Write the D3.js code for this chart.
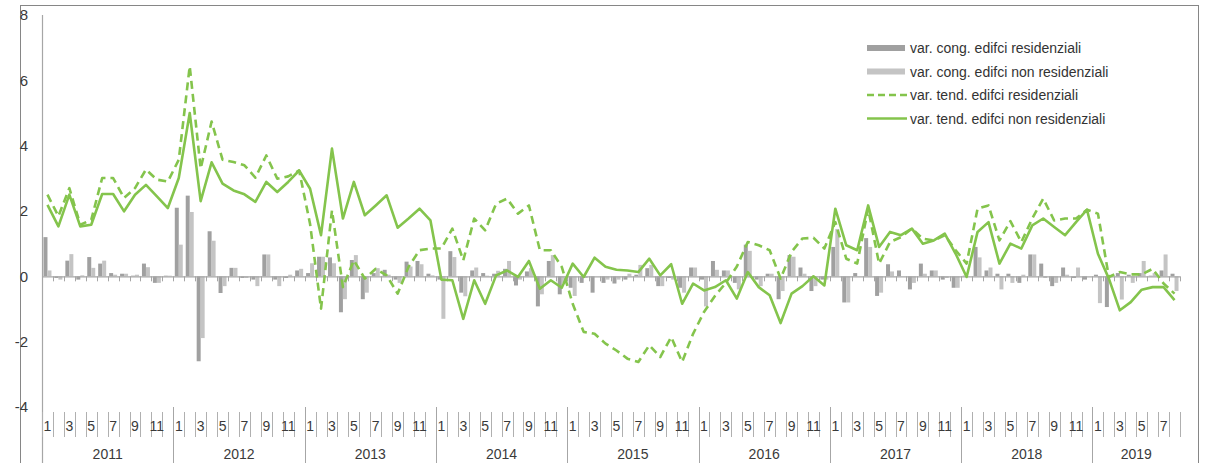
<!DOCTYPE html>
<html>
<head>
<meta charset="utf-8">
<script src="https://cdn.jsdelivr.net/npm/d3@7"></script>
<style>
  body { margin: 0; background: #fff; }
  svg { font-family: "Liberation Sans", Arial, sans-serif; }
</style>
</head>
<body>
<svg id="chart" width="1206" height="463"></svg>
<script>
// monthly series, Jan 2011 -> Aug 2019
const years = [2011, 2012, 2013, 2014, 2015, 2016, 2017, 2018, 2019];
const monthsPerYear = [12, 12, 12, 12, 12, 12, 12, 12, 8];

const congRes = [
    1.2, -0.05, 0.48, -0.1, 0.59, 0.39, 0.1, 0.08, 0.02, 0.39, -0.2, 0.02,
    2.1, 2.47, -2.6, 1.38, -0.51, 0.26, -0.05, -0.1, 0.67, -0.1, -0.05, 0.18,
    0.1, 0.6, 0.58, -1.1, 0.5, -0.7, 0.1, 0.2, -0.1, 0.45, 0.47, 0.08,
    -0.1, 0.77, -0.5, 0.18, 0.1, 0.08, 0.23, -0.28, 0.15, -0.92, 0.47, -0.55,
    -0.35, -0.2, -0.5, -0.2, -0.22, -0.1, 0.05, 0.25, -0.3, -0.05, -0.35, 0.27,
    -0.1, 0.47, 0.18, -0.2, 0.97, -0.1, 0.08, -0.7, 0.65, 0.27, -0.45, -0.1,
    0.9, -0.8, 0.1, 1.17, -0.6, 0.37, 0.18, -0.4, 0.39, 0.18, -0.1, -0.35,
    0.02, 0.9, 0.18, 0.08, 0.08, -0.2, 0.67, 0.39, -0.3, 0.27, -0.05, -0.1,
    0.05, -0.94, 0.1, 0.05, 0.1, 0.02, 0.18, 0.08
];
const congNonRes = [
    0.18, -0.1, 0.68, 0.03, 0.26, 0.48, 0.05, 0.08, 0.05, 0.28, -0.2, 0.02,
    0.97, 1.97, -1.89, 1.09, -0.3, 0.26, -0.05, -0.3, 0.67, -0.3, 0.05, 0.23,
    0.4, 0.6, 0.4, -0.7, 0.65, -0.5, 0.25, 0.05, -0.2, 0.3, 0.37, 0.03,
    -1.3, 0.59, -0.61, 0.27, 0.02, 0.17, 0.47, -0.1, 0.25, -0.55, 0.65, -0.2,
    -0.6, -0.05, 0.0, -0.1, -0.1, 0.08, 0.35, 0.35, -0.3, -0.1, -0.5, 0.27,
    -0.92, 0.2, 0.18, -0.4, 0.78, -0.3, 0.08, -0.45, 0.6, 0.08, -0.3, -0.1,
    1.45, -0.8, 0.0, 0.9, -0.5, 0.15, 0.0, -0.2, 0.08, 0.18, -0.05, -0.35,
    0.0, 0.58, 0.27, -0.4, -0.2, 0.05, 0.67, -0.05, -0.2, 0.05, 0.27, 0.0,
    -0.82, 0.0, -0.71, -0.2, 0.47, 0.1, 0.67, -0.45
];
const tendRes = [
    2.5, 1.84, 2.7, 1.58, 1.73, 3.01, 3.01, 2.4, 2.7, 3.27, 2.96, 2.9,
    3.57, 6.43, 3.3, 4.74, 3.57, 3.5, 3.4, 3.02, 3.7, 2.99, 3.06, 3.24,
    1.6, -0.99, 2.02, -0.33, 0.49, -0.07, 0.23, 0.03, -0.53, 0.29, 0.8, 0.85,
    0.85, 1.46, 0.49, 1.77, 1.41, 2.22, 2.38, 1.92, 2.17, 0.8, 0.8, 0.29,
    -0.84, -1.7, -1.76, -2.06, -2.27, -2.52, -2.62, -2.11, -2.47, -1.86, -2.62, -1.76,
    -1.09, -0.6, -0.2, 0.3, 1.05, 0.95, 0.8, -0.07, 0.75, 1.16, 1.18, 0.85,
    1.66, 0.54, 0.39, 2.07, 0.39, 1.05, 1.2, 1.46, 1.15, 1.1, 1.26, 0.8,
    0.39, 2.07, 2.17, 1.1, 1.69, 1.05, 1.77, 2.38, 1.71, 1.77, 1.77, 2.04,
    1.92, -0.02, 0.13, 0.06, 0.06, 0.23, -0.22, -0.53
];
const tendNonRes = [
    2.19, 1.53, 2.5, 1.53, 1.58, 2.52, 2.52, 1.99, 2.5, 2.8, 2.45, 2.09,
    3.01, 5.0, 2.3, 3.49, 2.84, 2.63, 2.51, 2.28, 2.89, 2.58, 2.89, 3.24,
    2.68, 1.26, 3.91, 1.77, 2.89, 1.87, 2.17, 2.48, 1.49, 1.77, 2.07, 1.71,
    -0.1, -0.12, -1.3, -0.12, -0.84, 0.03, 0.18, -0.02, 0.47, -0.38, -0.12, -0.35,
    0.39, -0.02, 0.57, 0.29, 0.2, 0.18, 0.13, 0.54, 0.03, 0.37, -0.84, -0.22,
    -0.43, -0.33, -0.12, -0.68, 0.13, -0.33, -0.58, -1.43, -0.53, -0.3, 0.0, -0.28,
    2.07, 0.95, 0.8, 2.17, 0.9, 1.36, 1.26, 1.46, 1.0, 1.1, 1.31, 0.69,
    -0.02, 1.36, 1.66, 0.39, 1.0, 0.85, 1.56, 1.77, 1.51, 1.26, 1.66, 2.04,
    0.69, -0.07, -1.04, -0.79, -0.41, -0.33, -0.33, -0.73
];
const seriesNames = [
    'var. cong. edifci residenziali',
    'var. cong. edifci non residenziali',
    'var. tend. edifci residenziali',
    'var. tend. edifci non residenziali'
];
const yTicks = [-4, -2, 0, 2, 4, 6, 8];

// month list built from the year table
let months = [];
years.forEach((y, k) => {
    for (let m = 1; m <= monthsPerYear[k]; m++) months.push({ year: y, month: m });
});
months.forEach((d, i) => {
    d.i = i;
    d.res = congRes[i];
    d.nonRes = congNonRes[i];
    d.tRes = tendRes[i];
    d.tNonRes = tendNonRes[i];
});

const svg = d3.select('#chart');
const grey = '#a6a6a6';
const green = '#84c44c';
const txt = '#3a3a3a';

// outer frame
svg.append('rect')
    .attr('x', 20.5).attr('y', 5.5)
    .attr('width', 1178).attr('height', 480)
    .attr('fill', 'none').attr('stroke', '#868686');

const x = d3.scaleBand().domain(d3.range(months.length)).range([42, 1180]);
const xSub = d3.scaleBand().domain(['res', 'nonRes'])
    .range([0, x.bandwidth()]).paddingOuter(0.37);
const y = d3.scaleLinear().domain([-4, 8]).range([407, 15]);

// y axis (hyphen minus, like the original)
const yAxis = svg.append('g')
    .attr('transform', 'translate(42,0)')
    .call(d3.axisLeft(y).tickValues(yTicks).tickSize(0).tickPadding(14)
        .tickFormat(d => String(d)));
yAxis.select('.domain').remove();
yAxis.selectAll('text')
    .attr('font-size', 15).attr('fill', txt)
    .attr('font-family', '"Liberation Sans", Arial, sans-serif');
svg.append('line')
    .attr('x1', 42.5).attr('x2', 42.5)
    .attr('y1', y(8)).attr('y2', 463)
    .attr('stroke', grey).attr('stroke-width', 1.2);

// bars
svg.append('g').selectAll('rect.res')
    .data(months).join('rect')
    .attr('x', d => x(d.i) + xSub('res'))
    .attr('width', xSub.bandwidth())
    .attr('y', d => y(Math.max(0, d.res)))
    .attr('height', d => Math.abs(y(d.res) - y(0)))
    .attr('fill', '#a0a0a0');
svg.append('g').selectAll('rect.nonres')
    .data(months).join('rect')
    .attr('x', d => x(d.i) + xSub('nonRes'))
    .attr('width', xSub.bandwidth())
    .attr('y', d => y(Math.max(0, d.nonRes)))
    .attr('height', d => Math.abs(y(d.nonRes) - y(0)))
    .attr('fill', '#c4c4c4');

// zero line with small ticks
const zero = svg.append('g');
zero.append('line')
    .attr('x1', 42).attr('x2', 1180)
    .attr('y1', y(0) + 0.5).attr('y2', y(0) + 0.5)
    .attr('stroke', grey).attr('stroke-width', 1.2);
zero.selectAll('line.tk')
    .data(d3.range(months.length + 1)).join('line')
    .attr('x1', i => Math.round(42 + i * x.step()) + 0.5)
    .attr('x2', i => Math.round(42 + i * x.step()) + 0.5)
    .attr('y1', y(0)).attr('y2', y(0) + 5)
    .attr('stroke', grey);

// trend lines
const lineOf = key => d3.line()
    .x(d => x(d.i) + x.bandwidth() / 2)
    .y(d => y(d[key]));
svg.append('path')
    .datum(months)
    .attr('d', lineOf('tRes'))
    .attr('fill', 'none').attr('stroke', green)
    .attr('stroke-width', 2.6).attr('stroke-dasharray', '8,5')
    .attr('stroke-linejoin', 'round');
svg.append('path')
    .datum(months)
    .attr('d', lineOf('tNonRes'))
    .attr('fill', 'none').attr('stroke', green)
    .attr('stroke-width', 2.6)
    .attr('stroke-linejoin', 'round');

// category axis: months + years
const cat = svg.append('g');
cat.selectAll('line.mt')
    .data(d3.range(months.length + 1)).join('line')
    .attr('x1', i => Math.round(42 + i * x.step()) + 0.5)
    .attr('x2', i => Math.round(42 + i * x.step()) + 0.5)
    .attr('y1', 412).attr('y2', 437)
    .attr('stroke', '#b0b0b0');
cat.selectAll('text.m')
    .data(months.filter(d => d.month % 2 === 1)).join('text')
    .attr('x', d => x(d.i) + x.bandwidth() / 2)
    .attr('y', 431)
    .attr('text-anchor', 'middle')
    .attr('font-size', 14).attr('fill', txt)
    .text(d => d.month);

let start = 0;
const yearSpans = years.map((yr, k) => {
    const s = { year: yr, from: start, to: start + monthsPerYear[k] };
    start += monthsPerYear[k];
    return s;
});
cat.selectAll('line.ys')
    .data(yearSpans.slice(1)).join('line')
    .attr('x1', d => Math.round(x(d.from)) + 0.5)
    .attr('x2', d => Math.round(x(d.from)) + 0.5)
    .attr('y1', 407).attr('y2', 463)
    .attr('stroke', grey);
cat.selectAll('text.yr')
    .data(yearSpans).join('text')
    .attr('x', d => (x(d.from) + (d.to >= months.length ? 1180 : x(d.to))) / 2)
    .attr('y', 459)
    .attr('text-anchor', 'middle')
    .attr('font-size', 14).attr('fill', txt)
    .text(d => d.year);

// legend
const legend = svg.append('g').attr('transform', 'translate(867,48)');
const rowH = 23.5;
seriesNames.forEach((name, k) => {
    const g = legend.append('g').attr('transform', `translate(0,${k * rowH})`);
    if (k < 2) {
        g.append('rect')
            .attr('x', 0).attr('y', -3).attr('width', 38).attr('height', 6)
            .attr('fill', k === 0 ? '#a0a0a0' : '#c4c4c4');
    } else {
        g.append('line')
            .attr('x1', 0).attr('x2', 40).attr('y1', 0).attr('y2', 0)
            .attr('stroke', green).attr('stroke-width', 2.6)
            .attr('stroke-dasharray', k === 2 ? '7,4' : null);
    }
    g.append('text')
        .attr('x', 43).attr('y', 5)
        .attr('font-size', 14).attr('fill', '#333')
        .text(name);
});
</script>
</body>
</html>
